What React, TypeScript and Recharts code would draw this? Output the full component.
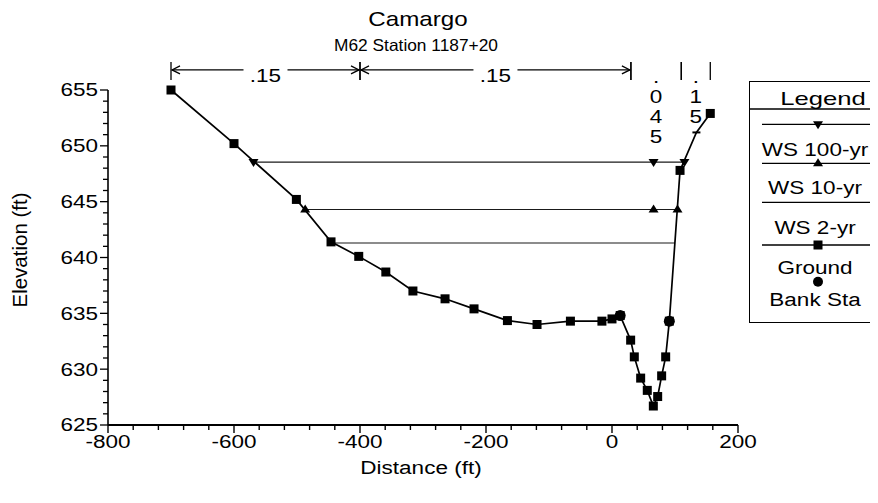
import React from 'react';
import { ComposedChart, Line, XAxis, YAxis, ReferenceLine } from 'recharts';

// ---------- data ----------
const groundX = [-700, -600, -501, -446, -402, -359, -316, -265, -219, -166, -119, -66, -16, 0, 13, 29.6, 35.4, 45.5, 56, 65.6, 72.5, 78.8, 85.2, 91, 108, 134, 156];
const groundY = [655.0, 650.2, 645.2, 641.4, 640.1, 638.7, 637.0, 636.3, 635.4, 634.35, 634.0, 634.3, 634.3, 634.5, 634.8, 632.6, 631.1, 629.2, 628.1, 626.7, 627.55, 629.4, 631.1, 634.3, 647.8, 651.2, 652.9];

const ws100X = [-569, 66, 115];
const ws100Y = [648.55, 648.55, 648.55];
const ws10X = [-487, 66, 104];
const ws10Y = [644.3, 644.3, 644.3];
const ws2X = [-446, 100];
const ws2Y = [641.3, 641.3];

const bankX = [13, 91];
const bankY = [634.8, 634.3];

const leveeX = [134];
const leveeY = [651.2];

const nBreaks = [-700, -400, 30, 110, 156];
const nValues = ['.15', '.15', '.045', '.15'];
const nElev = 656.8;

const xTicks = Array.from({ length: 26 }, (_, i) => -800 + i * 40);
const yTicks = Array.from({ length: 31 }, (_, i) => 625 + i);

const zip = (xs: number[], ys: number[]) => xs.map((x, i) => ({ x, y: ys[i] }));
const groundData = zip(groundX, groundY);
const ws100Data = zip(ws100X, ws100Y);
const ws10Data = zip(ws10X, ws10Y);
const ws2Data = zip(ws2X, ws2Y);
const bankData = zip(bankX, bankY);
const leveeData = zip(leveeX, leveeY);

// ---------- style ----------
const FONT = '"Liberation Sans", Arial, Helvetica, sans-serif';
const SX = 1.25;

const XTick = (props: any) => {
  const { x, y, payload } = props;
  const v = payload.value;
  const major = v % 200 === 0;
  return (
    <g>
      <line x1={x} y1={y} x2={x} y2={y + (major ? 8 : 5)} stroke="#000" strokeWidth={1.4} />
      {major && (
        <text
          transform={`translate(${x},${y + 10}) scale(${SX},1)`}
          textAnchor="middle"
          dy="0.71em"
          fontSize={18}
          fontFamily={FONT}
          fill="#000"
        >
          {v}
        </text>
      )}
    </g>
  );
};

const YTick = (props: any) => {
  const { x, y, payload } = props;
  const v = payload.value;
  const major = v % 5 === 0;
  return (
    <g>
      <line x1={x - (major ? 8 : 5)} y1={y} x2={x} y2={y} stroke="#000" strokeWidth={1.3} />
      {major && (
        <text
          transform={`translate(${x - 10},${y}) scale(${SX},1)`}
          textAnchor="end"
          dy="0.36em"
          fontSize={18}
          fontFamily={FONT}
          fill="#000"
        >
          {v}
        </text>
      )}
    </g>
  );
};

const SquareDot = (props: any) => {
  const { cx, cy, payload, index } = props;
  if (cx == null || cy == null || leveeX.includes(payload.x)) return <g key={`sq${index}`} />;
  return <rect key={`sq${index}`} x={cx - 4.5} y={cy - 4.5} width={9} height={9} fill="#000" />;
};
const DownTri = (props: any) => {
  const { cx, cy, index } = props;
  if (cx == null || cy == null) return <g key={`dt${index}`} />;
  return <path key={`dt${index}`} d={`M${cx - 5},${cy - 3} L${cx + 5},${cy - 3} L${cx},${cy + 5} Z`} fill="#000" />;
};
const UpTri = (props: any) => {
  const { cx, cy, index } = props;
  if (cx == null || cy == null) return <g key={`ut${index}`} />;
  return <path key={`ut${index}`} d={`M${cx - 5},${cy + 3} L${cx + 5},${cy + 3} L${cx},${cy - 5} Z`} fill="#000" />;
};
const CircleDot = (props: any) => {
  const { cx, cy, index } = props;
  if (cx == null || cy == null) return <g key={`cd${index}`} />;
  return <circle key={`cd${index}`} cx={cx} cy={cy} r={5.5} fill="#000" />;
};
const DashDot = (props: any) => {
  const { cx, cy, index } = props;
  if (cx == null || cy == null) return <g key={`dd${index}`} />;
  return <line key={`dd${index}`} x1={cx - 4} y1={cy} x2={cx + 4} y2={cy} stroke="#000" strokeWidth={2} />;
};

const NSeg = (p: any) => {
  const { x1, x2, y1, label } = p;
  const y = y1;
  const w = x2 - x1;
  const bar = (x: number) => <line x1={x} y1={y - 8} x2={x} y2={y + 10} stroke="#000" strokeWidth={1.3} />;
  if (w > 60) {
    const mid = (x1 + x2) / 2;
    const gap = 22;
    return (
      <g>
        {bar(x1)}
        {bar(x2)}
        <line x1={x1 + 1} y1={y} x2={mid - gap} y2={y} stroke="#000" strokeWidth={1.2} />
        <line x1={mid + gap} y1={y} x2={x2 - 1} y2={y} stroke="#000" strokeWidth={1.2} />
        <polyline points={`${x1 + 9},${y - 4} ${x1 + 1},${y} ${x1 + 9},${y + 4}`} fill="none" stroke="#000" strokeWidth={1.3} />
        <polyline points={`${x2 - 9},${y - 4} ${x2 - 1},${y} ${x2 - 9},${y + 4}`} fill="none" stroke="#000" strokeWidth={1.3} />
        <text
          transform={`translate(${mid},${y + 6}) scale(${SX},1)`}
          textAnchor="middle"
          dy="0.36em"
          fontSize={18}
          fontFamily={FONT}
          fill="#000"
        >
          {label}
        </text>
      </g>
    );
  }
  const mid = (x1 + x2) / 2;
  const chars = label.split('');
  return (
    <g>
      {bar(x1)}
      {bar(x2)}
      {chars.map((c: string, i: number) => (
        <text
          key={i}
          transform={`translate(${mid},${y + 7 + i * 20}) scale(${SX},1)`}
          textAnchor="middle"
          dy="0.36em"
          fontSize={18}
          fontFamily={FONT}
          fill="#000"
        >
          {c}
        </text>
      ))}
    </g>
  );
};

const T = ({ x, y, size, sx = SX, rotate = 0, children }: any) => (
  <div
    style={{
      position: 'absolute',
      left: x,
      top: y,
      transform: `translate(-50%,-50%) rotate(${rotate}deg) scaleX(${sx})`,
      fontSize: size,
      lineHeight: `${size}px`,
      whiteSpace: 'nowrap',
      fontFamily: FONT,
      color: '#000',
    }}
  >
    {children}
  </div>
);

const legendRows = [
  { kind: 'down', lineY: 116.3, label: 'WS 100-yr', textY: 142 },
  { kind: 'up', lineY: 155.3, label: 'WS 10-yr', textY: 179.7 },
  { kind: 'none', lineY: 194.3, label: 'WS 2-yr', textY: 219.7 },
  { kind: 'square', lineY: 237, label: 'Ground', textY: 260 },
  { kind: 'circle', lineY: 273.7, label: 'Bank Sta', textY: 292 },
];

const Legend = () => {
  const sx = 810;
  return (
    <>
      <div
        style={{
          position: 'absolute',
          left: 741,
          top: 73,
          width: 140,
          height: 242,
          border: '1.5px solid #000',
          boxSizing: 'border-box',
        }}
      />
      <svg style={{ position: 'absolute', left: 0, top: 0 }} width={870} height={495}>
        <line x1={741} y1={101} x2={870} y2={101} stroke="#000" strokeWidth={1.5} />
        {legendRows.map((r) => (
          <g key={r.label}>
            {r.kind !== 'circle' && <line x1={754} y1={r.lineY} x2={868} y2={r.lineY} stroke="#000" strokeWidth={1.3} />}
            {r.kind === 'down' && <path d={`M${sx - 5},${r.lineY - 3} L${sx + 5},${r.lineY - 3} L${sx},${r.lineY + 5} Z`} fill="#000" />}
            {r.kind === 'up' && <path d={`M${sx - 5},${r.lineY + 3} L${sx + 5},${r.lineY + 3} L${sx},${r.lineY - 5} Z`} fill="#000" />}
            {r.kind === 'square' && <rect x={sx - 4.5} y={r.lineY - 4.5} width={9} height={9} fill="#000" />}
            {r.kind === 'circle' && <circle cx={sx} cy={r.lineY} r={5} fill="#000" />}
          </g>
        ))}
      </svg>
      <T x={815} y={90} size={19} sx={1.35}>Legend</T>
      {legendRows.map((r) => (
        <T key={r.label} x={807} y={r.textY} size={18}>
          {r.label}
        </T>
      ))}
    </>
  );
};

export default function App() {
  return (
    <div style={{ position: 'relative', width: 870, height: 495, overflow: 'hidden', background: '#fff', fontFamily: FONT }}>
      <ComposedChart width={870} height={495} margin={{ top: 82, right: 140, bottom: 38, left: 40 }}>
        <XAxis
          dataKey="x"
          type="number"
          domain={[-800, 200]}
          ticks={xTicks}
          interval={0}
          height={40}
          tickSize={0}
          tickMargin={0}
          tickLine={false}
          tick={<XTick />}
          axisLine={{ stroke: '#000', strokeWidth: 2 }}
        />
        <YAxis
          type="number"
          domain={[625, 655]}
          ticks={yTicks}
          interval={0}
          width={60}
          tickSize={0}
          tickMargin={0}
          tickLine={false}
          tick={<YTick />}
          axisLine={{ stroke: '#000', strokeWidth: 1.6 }}
        />
        {nValues.map((v, i) => (
          <ReferenceLine
            key={`n${i}`}
            segment={[
              { x: nBreaks[i], y: nElev },
              { x: nBreaks[i + 1], y: nElev },
            ]}
            ifOverflow="visible"
            shape={(p: any) => <NSeg {...p} label={v} />}
          />
        ))}
        <Line data={ws2Data} dataKey="y" stroke="#1a1a1a" strokeWidth={1.2} dot={false} isAnimationActive={false} />
        <Line data={ws10Data} dataKey="y" stroke="#1a1a1a" strokeWidth={1.2} dot={<UpTri />} isAnimationActive={false} />
        <Line data={ws100Data} dataKey="y" stroke="#1a1a1a" strokeWidth={1.2} dot={<DownTri />} isAnimationActive={false} />
        <Line data={groundData} dataKey="y" stroke="#000" strokeWidth={1.7} dot={<SquareDot />} isAnimationActive={false} />
        <Line data={leveeData} dataKey="y" stroke="none" dot={<DashDot />} isAnimationActive={false} />
        <Line data={bankData} dataKey="y" stroke="none" dot={<CircleDot />} isAnimationActive={false} />
      </ComposedChart>
      <T x={410} y={10} size={21} sx={1.15}>Camargo</T>
      <T x={408} y={37} size={16.5} sx={1.05}>M62 Station 1187+20</T>
      <T x={413} y={460} size={18}>Distance (ft)</T>
      <T x={12} y={242} size={20.5} sx={1} rotate={-90}>Elevation (ft)</T>
      <Legend />
    </div>
  );
}
